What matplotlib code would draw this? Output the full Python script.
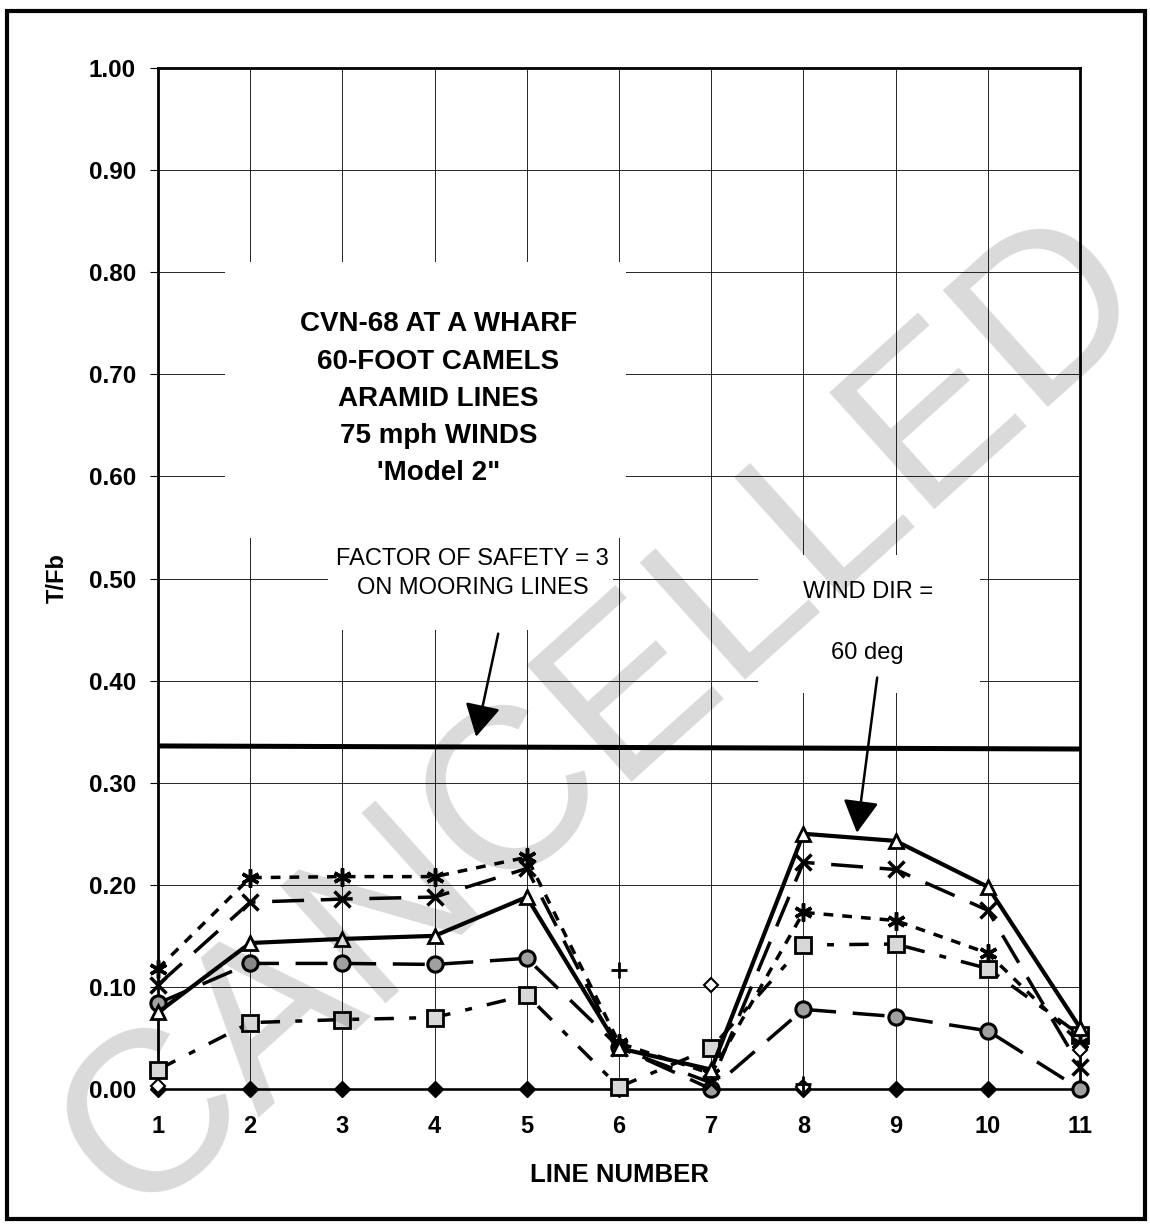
import matplotlib
matplotlib.use("Agg")
import matplotlib.pyplot as plt
from matplotlib.patches import Rectangle
import numpy as np

plt.rcParams['font.family'] = ['Liberation Sans', 'DejaVu Sans']
plt.rcParams['font.weight'] = 'bold'
plt.rcParams['axes.labelweight'] = 'bold'
plt.rcParams['lines.scale_dashes'] = False

# data
line_no = [1, 2, 3, 4, 5, 6, 7, 8, 9, 10, 11]
tri_vals = [0.075, 0.143, 0.147, 0.150, 0.188, 0.040, 0.019, 0.250, 0.243, 0.198, 0.060]
x_vals = [0.102, 0.183, 0.186, 0.188, 0.216, 0.040, 0.006, 0.222, 0.215, 0.175, 0.022]
star_vals = [0.118, 0.207, 0.208, 0.208, 0.227, 0.045, 0.015, 0.173, 0.165, 0.133, 0.045]
circ_vals = [0.084, 0.123, 0.123, 0.122, 0.128, 0.041, 0.000, 0.078, 0.071, 0.057, 0.000]
sq_vals = [0.019, 0.065, 0.068, 0.070, 0.092, 0.002, 0.040, 0.141, 0.142, 0.118, 0.053]
dia_vals = [0, 0, 0, 0, 0, 0, 0, 0, 0, 0, 0]
odia_lines = [1, 7, 8, 11]
odia_vals = [0.003, 0.102, 0.002, 0.038]
plus_lines = [6, 8]
plus_vals = [0.117, 0.005]
fos_x = [1, 11]
fos_vals = [0.336, 0.333]

fig = plt.figure(figsize=(11.5, 12.24), dpi=100)
ax = fig.add_axes([158/1150, 1-1089/1224, 922/1150, 1021/1224])

ax.set_xlim(1, 11)
ax.set_ylim(0, 1)
ax.set_xticks(line_no)
ax.set_yticks(np.arange(0, 1.01, 0.1))
ax.yaxis.set_major_formatter('{x:.2f}')
ax.set_axisbelow(True)
ax.grid(True, color='black', lw=0.6)
ax.tick_params(axis='y', direction='out', length=6, width=0.8, pad=10, labelsize=17.5)
ax.tick_params(axis='x', length=0, pad=19, labelsize=17)
for s in ['left', 'top', 'right']:
    ax.spines[s].set_linewidth(2)
ax.spines['bottom'].set_linewidth(1)

# white areas behind the notes
ax.add_patch(Rectangle((1.73, 0.54), 4.35, 0.27, facecolor='white', edgecolor='none', zorder=1))
ax.add_patch(Rectangle((2.84, 0.45), 3.1, 0.09, facecolor='white', edgecolor='none', zorder=1))
ax.add_patch(Rectangle((7.51, 0.388), 2.41, 0.135, facecolor='white', edgecolor='none', zorder=1))

ax.plot(fos_x, fos_vals, color='black', lw=3.6, zorder=2)

kw = dict(color='black', clip_on=False, zorder=3)
ax.plot(line_no, dia_vals, marker='D', ms=8, mfc='black', lw=1.8, **kw)
ax.plot(line_no, sq_vals, marker='s', ms=11, mfc='#d8d8d8', mec='black', mew=2,
        lw=2.5, linestyle=(0, (14, 11, 5, 11)), **kw)
ax.plot(line_no, circ_vals, marker='o', ms=11, mfc='#a0a0a0', mec='black', mew=2.2,
        lw=2.5, linestyle=(0, (23, 12)), **kw)
ax.plot(line_no, star_vals, marker=(6, 2, 0), ms=13, mew=2.5,
        lw=2.5, linestyle=(0, (7, 6.5)), **kw)
ax.plot(line_no, x_vals, marker='x', ms=12, mew=2.5,
        lw=2.5, linestyle=(0, (23, 12)), **kw)
ax.plot(line_no, tri_vals, marker='^', ms=10, mfc='white', mec='black', mew=2,
        lw=3, **kw)
ax.plot(odia_lines, odia_vals, linestyle='none', marker='D', ms=7, mfc='white',
        mec='black', mew=1.5, **kw)
ax.plot(plus_lines, plus_vals, linestyle='none', marker='+', ms=11, mew=2, **kw)

ax.set_xlabel('LINE NUMBER', fontsize=18.5, labelpad=18)
ax.set_ylabel('T/Fb', fontsize=17)
ax.yaxis.set_label_coords(-0.097, 0.5)

ax.text(4.04, 0.676, "CVN-68 AT A WHARF\n60-FOOT CAMELS\nARAMID LINES\n75 mph WINDS\n'Model 2\"",
        ha='center', va='center', fontsize=20, linespacing=1.56, zorder=4)
ax.text(4.41, 0.505, "FACTOR OF SAFETY = 3\nON MOORING LINES", ha='center', va='center',
        fontsize=17, fontweight='normal', linespacing=1.45, zorder=4)
ax.text(8.70, 0.487, "WIND DIR =", ha='center', va='center', fontsize=17,
        fontweight='normal', zorder=4)
ax.text(8.69, 0.427, "60 deg", ha='center', va='center', fontsize=17,
        fontweight='normal', zorder=4)

arrow = dict(arrowstyle='-|>,head_length=2,head_width=1.1', mutation_scale=10,
             color='black', lw=1.8, shrinkA=0, shrinkB=0)
ax.annotate('', xy=(4.45, 0.345), xytext=(4.69, 0.446), arrowprops=arrow, zorder=4)
ax.annotate('', xy=(8.58, 0.251), xytext=(8.80, 0.403), arrowprops=arrow, zorder=4)

# outer frame
fig.add_artist(Rectangle((0.006, 0.004), 0.99, 0.987, transform=fig.transFigure,
                         fill=False, edgecolor='black', lw=3))

# stamp
fig.text(0.525, 0.415, 'CANCELLED', rotation=42, rotation_mode='anchor', fontsize=165,
         fontweight='normal', color='black', alpha=0.15, ha='center', va='center', zorder=10)

fig.savefig('out.png', dpi=100)
